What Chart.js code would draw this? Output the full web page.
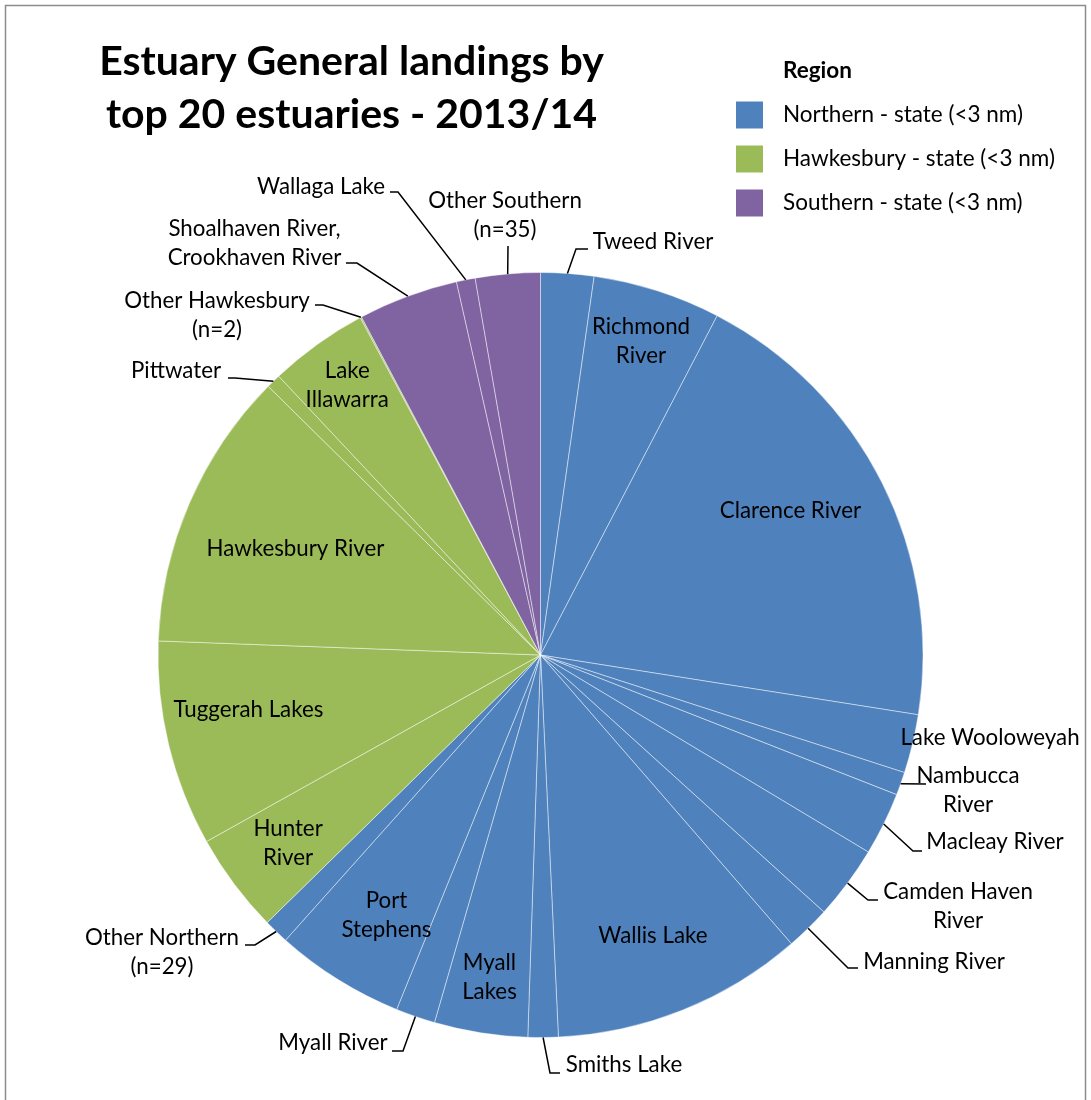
<!DOCTYPE html>
<html>
<head>
<meta charset="utf-8">
<script src="https://cdn.jsdelivr.net/npm/chart.js@4.4.0/dist/chart.umd.min.js"></script>
<style>
    html, body { margin: 0; padding: 0; background: #fff; }
    #wrap { width: 1091px; height: 1100px; position: relative; }
</style>
</head>
<body>
<div id="wrap"><canvas id="pieChart"></canvas></div>
<script>
// Estuaries in slice order, clockwise from 12 o'clock ('\n' = label line break)
const estuaries = [
    'Tweed River', 'Richmond\nRiver', 'Clarence River', 'Lake Wooloweyah', 'Nambucca\nRiver',
    'Macleay River', 'Camden Haven\nRiver', 'Manning River', 'Wallis Lake', 'Smiths Lake',
    'Myall\nLakes', 'Myall River', 'Port\nStephens', 'Other Northern\n(n=29)',
    'Hunter\nRiver', 'Tuggerah Lakes', 'Hawkesbury River', 'Pittwater', 'Lake\nIllawarra',
    'Other Hawkesbury\n(n=2)',
    'Shoalhaven River,\nCrookhaven River', 'Wallaga Lake', 'Other Southern\n(n=35)'
];

// Landings (t), 2013/14
const landings = [
    26.9, 64.8, 238.3, 29.7, 11.7,
    32.0, 37.3, 22.7, 127.7, 15.3,
    47.3, 20.0, 65.7, 12.7,
    50.7, 104.3, 141.7, 7.3, 50.3,
    0.7,
    50.7, 9.5, 32.8
];

// Region index of each estuary
const estuaryRegion = [0, 0, 0, 0, 0, 0, 0, 0, 0, 0, 0, 0, 0, 0, 1, 1, 1, 1, 1, 1, 2, 2, 2];

const regions = ['Northern - state (<3 nm)', 'Hawkesbury - state (<3 nm)', 'Southern - state (<3 nm)'];
const regionColours = ['#4F81BD', '#9BBB59', '#8064A2'];

const titleLines = ['Estuary General landings by', 'top 20 estuaries - 2013/14'];
const legendTitle = 'Region';

const FONT = 'Lato, "Open Sans", sans-serif';
const labelFont = '22.3px ' + FONT;
const labelLineH = 29;

// Label placement: r/da = inside the slice (radius fraction, angle shift in deg);
// tx/ty = text centre offset from the pie centre, lead = leader line points
const labelPlacement = [
    { tx: 112.5, ty: -413, lead: [[35.5, -406], [47.5, -406]] },
    { r: 0.86 },
    { r: 0.755, da: -3.3 },
    { tx: 449.5, ty: 83 },
    { tx: 427.5, ty: 135.5, lead: [[385.5, 129]] },
    { tx: 454.5, ty: 187, lead: [[372.5, 196], [381.5, 196]] },
    { tx: 417.5, ty: 251.5, lead: [[327.5, 245], [337.5, 245]] },
    { tx: 393.5, ty: 307, lead: [[307.5, 313], [317.5, 313]] },
    { r: 0.79 },
    { tx: 83.5, ty: 410, lead: [[9.5, 418], [19.5, 418]] },
    { r: 0.853 },
    { tx: -207.5, ty: 388, lead: [[-137.5, 396], [-148.5, 396]] },
    { r: 0.79, da: -1.3 },
    { tx: -378.5, ty: 297.5, lead: [[-285.5, 290], [-295.5, 290]] },
    { r: 0.824 },
    { r: 0.777, da: 2.9 },
    { r: 0.698 },
    { tx: -364.5, ty: -284, lead: [[-305.5, -277], [-312.5, -277]] },
    { r: 0.867 },
    { tx: -323.5, ty: -339.5, lead: [[-217.5, -350], [-225.5, -350]] },
    { tx: -286, ty: -412, lead: [[-183.5, -392], [-194.5, -392]] },
    { tx: -219.5, ty: -468, lead: [[-142.5, -463], [-150.5, -463]] },
    { tx: -35.5, ty: -439.5, lead: [[-32.5, -409]] }
];

// frame, title and region legend
const chartDecor = {
    id: 'chartDecor',
    beforeDraw(chart) {
        const c = chart.ctx;
        c.save();
        c.fillStyle = '#fff';
        c.fillRect(0, 0, chart.width, chart.height);
        c.strokeStyle = '#8c8c8c';
        c.lineWidth = 1.5;
        c.strokeRect(5.5, 5.5, chart.width - 11, chart.height + 20);
        c.restore();
    },
    afterDraw(chart) {
        const c = chart.ctx;
        c.save();
        c.fillStyle = '#000';
        c.textBaseline = 'middle';
        c.textAlign = 'center';
        c.font = 'bold 41px ' + FONT;
        titleLines.forEach((t, i) => c.fillText(t, 351.5, 62 + i * 53));

        c.textAlign = 'left';
        c.font = 'bold 22.5px ' + FONT;
        c.fillText(legendTitle, 783, 71);
        c.font = '22.5px ' + FONT;
        regions.forEach((r, i) => {
            const y = 115 + i * 44;
            c.fillStyle = regionColours[i];
            c.fillRect(736, y - 13.5, 27, 27);
            c.fillStyle = '#000';
            c.fillText(r, 783, y);
        });
        c.restore();
    }
};

// slice labels, with leader lines for the ones placed outside
const sliceLabels = {
    id: 'sliceLabels',
    afterDatasetsDraw(chart) {
        const c = chart.ctx;
        const arcs = chart.getDatasetMeta(0).data;
        c.save();
        c.font = labelFont;
        c.fillStyle = '#000';
        c.strokeStyle = '#000';
        c.lineWidth = 1.5;
        c.textAlign = 'center';
        c.textBaseline = 'middle';
        arcs.forEach((arc, i) => {
            const p = arc.getProps(['x', 'y', 'startAngle', 'endAngle', 'outerRadius'], true);
            const mid = (p.startAngle + p.endAngle) / 2;
            const place = labelPlacement[i];
            let lx, ly;
            if (place.r) {
                const a = mid + (place.da || 0) * Math.PI / 180;
                lx = p.x + Math.cos(a) * p.outerRadius * place.r;
                ly = p.y + Math.sin(a) * p.outerRadius * place.r;
            } else {
                lx = p.x + place.tx;
                ly = p.y + place.ty;
                if (place.lead) {
                    c.beginPath();
                    c.moveTo(p.x + Math.cos(mid) * p.outerRadius, p.y + Math.sin(mid) * p.outerRadius);
                    place.lead.forEach(pt => c.lineTo(p.x + pt[0], p.y + pt[1]));
                    c.stroke();
                }
            }
            const lines = estuaries[i].split('\n');
            lines.forEach((ln, k) => {
                c.fillText(ln, lx, ly + (k - (lines.length - 1) / 2) * labelLineH);
            });
        });
        c.restore();
    }
};

new Chart(document.getElementById('pieChart'), {
    type: 'pie',
    data: {
        labels: estuaries.map(e => e.replace('\n', ' ')),
        datasets: [{
            data: landings,
            backgroundColor: estuaryRegion.map(r => regionColours[r]),
            borderColor: 'rgba(255, 255, 255, 0.45)',
            borderWidth: 1
        }]
    },
    options: {
        responsive: true,
        maintainAspectRatio: false,
        animation: false,
        layout: {
            padding: { left: 157, right: 167, top: 272, bottom: 62 }
        },
        plugins: {
            legend: { display: false },
            tooltip: { enabled: false }
        }
    },
    plugins: [chartDecor, sliceLabels]
});
</script>
</body>
</html>
